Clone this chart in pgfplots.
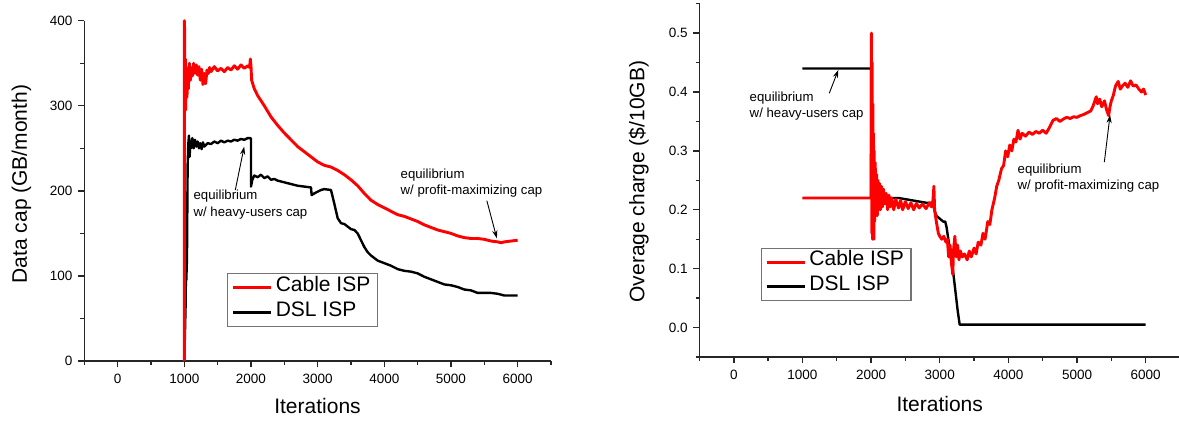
\documentclass[border=0pt]{standalone}
\usepackage{pgfplots}
\pgfplotsset{compat=1.18}
\usepackage{fontspec}
\setmainfont{Liberation Sans}
\usetikzlibrary{arrows.meta}

\newcommand{\annotfont}{\fontsize{6.6}{8}\selectfont}
\pgfplotsset{
  mystyle/.style={
    scale only axis,
    anchor=south west,
    axis x line*=bottom, axis y line*=left,
    axis line style={-, line width=0.7pt, black!85},
    tick align=outside,
    major tick length=3.2pt, minor tick length=2pt,
    every tick/.style={black!85, line width=0.7pt},
    xmin=-500, xmax=6500,
    xtick={0,1000,2000,3000,4000,5000,6000},
    xticklabels={0,1000,2000,3000,4000,5000,6000},
    minor xtick={-500,500,1500,2500,3500,4500,5500,6500},
    /pgf/number format/assume math mode=true,
    tick label style={font=\fontsize{6.75}{8}\selectfont, inner sep=0pt},
    xticklabel style={anchor=north, yshift=-3pt},
    yticklabel style={anchor=east, xshift=-2.5pt},
    label style={font=\fontsize{10.5}{12}\selectfont, inner sep=0pt},
    legend cell align=left,
    legend image code/.code={\draw[#1, line width=1.6pt] (0pt,0pt) -- (19pt,0pt);},
    legend style={draw=black!55, line width=0.6pt, font=\fontsize{10.5}{12}\selectfont,
      anchor=north west, inner xsep=2pt, inner ysep=0.8pt, row sep=0pt,
      nodes={inner xsep=1.5pt, inner ysep=0pt, text height=8pt, text depth=4.3pt}},
    clip=false,
  }
}

\begin{document}
\begin{tikzpicture}
\useasboundingbox (0,0) rectangle (589.5pt,210.5pt);

% ---------------- Left: data cap ----------------
\begin{axis}[mystyle,
  at={(42.15pt,30pt)}, width=233.35pt, height=170.15pt,
  ymin=0, ymax=400,
  ytick={0,100,200,300,400},
  yticklabels={0,100,200,300,400},
  minor ytick={50,150,250,350},
  xlabel={Iterations},
  ylabel={Data cap (GB/month)},
  xlabel style={at={(axis description cs:0.4997,-0.1537)}, anchor=base},
  ylabel style={at={(axis description cs:-0.1232,0.520)}, anchor=base, rotate=0},
  legend style={at={(0.3058,0.2577)}},
]
\addlegendimage{red}
\addlegendentry{Cable ISP}
\addlegendimage{black}
\addlegendentry{DSL ISP}

\addplot[black, line width=1.2pt, line join=round, forget plot] coordinates {
(1000,0)(1020,67)(1025,110)(1030,95)(1040,120)(1050,230)(1060,255)(1070,265)(1080,240)(1090,258)
(1100,250)(1120,262)(1140,250)(1160,260)(1180,252)(1200,258)(1220,250)(1240,256)(1260,249)(1280,257)
(1300,252)(1350,256)(1400,255)(1450,258)(1500,256)(1550,259)(1600,257)(1650,259)(1700,258)(1750,260)
(1800,259)(1850,261)(1900,260)(1950,262)(1990,262)(2000,261)(2000,205)(2020,213)(2050,218)(2100,216)
(2150,219)(2200,215)(2250,217)(2300,213)(2350,214)(2400,212)(2500,210)(2600,208)(2700,206)(2800,205)
(2900,204)(2910,195)(2950,197)(3000,199)(3050,201)(3100,202)(3200,201)(3250,185)(3300,168)(3350,162)
(3400,161)(3450,158)(3500,155)(3550,154)(3600,150)(3650,142)(3700,134)(3750,128)(3800,124)(3900,118)
(4000,115)(4100,112)(4200,108)(4300,106)(4400,105)(4500,103)(4600,99)(4700,96)(4800,93)(4900,90)
(5000,89)(5100,87)(5200,84)(5300,83)(5400,80)(5500,80)(5600,80)(5700,79)(5750,78)(5800,77)(6000,77)
};
\addplot[red, line width=1.45pt, line join=round, forget plot] coordinates {
(1000,0)(1000,400)(1005,390)(1010,300)(1015,355)(1020,295)(1030,345)(1040,310)(1050,340)(1060,320)
(1075,350)(1090,330)(1100,345)(1120,335)(1140,350)(1160,338)(1180,348)(1200,336)(1220,346)(1240,330)
(1260,343)(1280,325)(1300,338)(1320,326)(1340,342)(1360,338)(1380,345)(1400,340)(1450,346)(1500,341)
(1550,344)(1600,340)(1650,345)(1700,342)(1750,347)(1800,343)(1850,348)(1900,344)(1950,347)(1980,345)
(1990,355)(2000,347)(2010,330)(2050,320)(2100,312)(2200,300)(2300,287)(2400,277)(2500,268)(2600,260)
(2700,252)(2800,246)(2900,240)(3000,234)(3100,230)(3200,228)(3300,224)(3400,219)(3500,213)(3600,206)
(3700,197)(3800,189)(3900,184)(4000,180)(4100,176)(4200,172)(4300,170)(4400,167)(4500,164)(4600,160)
(4700,157)(4800,154)(4900,152)(5000,150)(5100,147)(5200,145)(5300,144)(5400,144)(5500,143)(5600,141)
(5700,140)(5750,139)(5800,140)(5900,141)(6000,142)
};

\node[anchor=base west, font=\annotfont, inner sep=0pt] at (axis cs:1134,189.3) {equilibrium};
\node[anchor=base west, font=\annotfont, inner sep=0pt] at (axis cs:1134,169.6) {w/ heavy-users cap};
\draw[-{Stealth[length=4pt,width=2.6pt]}, line width=0.45pt] (axis cs:1765,201) -- (axis cs:1898,251.9);
\node[anchor=base west, font=\annotfont, inner sep=0pt] at (axis cs:4240,214.8) {equilibrium};
\node[anchor=base west, font=\annotfont, inner sep=0pt] at (axis cs:4240,196.0) {w/ profit-maximizing cap};
\draw[-{Stealth[length=4pt,width=2.6pt]}, line width=0.45pt] (axis cs:5538,188.4) -- (axis cs:5688,144.2);
\end{axis}

% ---------------- Right: overage charge ----------------
\begin{axis}[mystyle,
  at={(349.75pt,32pt)}, width=240.25pt, height=176.65pt,
  ymin=-0.05, ymax=0.55,
  ytick={0,0.1,0.2,0.3,0.4,0.5},
  yticklabels={0.0,0.1,0.2,0.3,0.4,0.5},
  minor ytick={-0.05,0.05,0.15,0.25,0.35,0.45,0.55},
  xlabel={Iterations},
  ylabel={Overage charge (\$/10GB)},
  xlabel style={at={(axis description cs:0.4999,-0.1548)}, anchor=base},
  ylabel style={at={(axis description cs:-0.1149,0.4962)}, anchor=base, rotate=0},
  legend style={at={(0.1272,0.3094)}},
]
\addlegendimage{red}
\addlegendentry{Cable ISP}
\addlegendimage{black}
\addlegendentry{DSL ISP}

\addplot[black, line width=1.2pt, line join=round, forget plot] coordinates {
(1000,0.44)(2000,0.44)(2000,0.22)(2100,0.222)(2200,0.222)(2300,0.22)(2400,0.22)(2500,0.218)(2600,0.216)
(2700,0.214)(2800,0.212)(2900,0.212)(2920,0.20)(2950,0.19)(3000,0.185)(3050,0.18)(3080,0.18)(3100,0.17)
(3150,0.13)(3200,0.09)(3230,0.06)(3260,0.03)(3290,0.005)(6000,0.005)
};
\addplot[red, line width=1.45pt, line join=round, forget plot] coordinates {
(1000,0.22)(2000,0.22)(2005,0.50)(2010,0.16)(2015,0.45)(2020,0.15)(2025,0.38)(2030,0.17)(2035,0.33)
(2040,0.15)(2045,0.30)(2050,0.18)(2060,0.28)(2070,0.19)(2080,0.26)(2090,0.19)(2100,0.25)(2110,0.20)
(2120,0.245)(2135,0.20)(2150,0.24)(2165,0.205)(2180,0.235)(2200,0.21)(2220,0.228)(2240,0.20)(2260,0.225)
(2280,0.205)(2300,0.22)(2330,0.20)(2360,0.218)(2400,0.203)(2430,0.216)(2460,0.20)(2500,0.214)(2540,0.202)
(2580,0.212)(2620,0.20)(2660,0.211)(2700,0.203)(2750,0.21)(2800,0.202)(2850,0.212)(2880,0.205)(2900,0.215)
(2915,0.24)(2925,0.20)(2950,0.18)(2980,0.16)(3000,0.155)(3030,0.15)(3060,0.155)(3090,0.145)(3110,0.15)
(3130,0.12)(3150,0.14)(3170,0.11)(3190,0.09)(3200,0.13)(3220,0.155)(3240,0.12)(3260,0.14)(3280,0.115)
(3300,0.13)(3330,0.12)(3360,0.125)(3400,0.115)(3430,0.13)(3460,0.12)(3500,0.135)(3530,0.125)(3560,0.145)
(3600,0.14)(3630,0.16)(3660,0.15)(3700,0.18)(3730,0.175)(3760,0.20)(3800,0.22)(3830,0.24)(3860,0.25)
(3900,0.27)(3930,0.275)(3960,0.30)(3990,0.29)(4020,0.31)(4050,0.30)(4080,0.32)(4110,0.315)(4140,0.335)
(4170,0.32)(4200,0.33)(4250,0.325)(4300,0.332)(4350,0.328)(4400,0.333)(4450,0.33)(4500,0.335)(4550,0.33)
(4600,0.34)(4650,0.352)(4700,0.355)(4750,0.35)(4800,0.354)(4850,0.357)(4900,0.355)(4950,0.358)(5000,0.357)
(5050,0.36)(5100,0.362)(5150,0.365)(5200,0.368)(5230,0.375)(5260,0.385)(5280,0.392)(5300,0.38)(5330,0.388)
(5360,0.375)(5400,0.385)(5430,0.37)(5460,0.36)(5480,0.375)(5500,0.385)(5530,0.395)(5560,0.41)(5600,0.418)
(5630,0.405)(5660,0.41)(5700,0.415)(5740,0.408)(5780,0.419)(5820,0.41)(5860,0.412)(5900,0.405)(5940,0.40)
(5970,0.405)(6000,0.395)
};

\node[anchor=base west, font=\annotfont, inner sep=0pt] at (axis cs:226,0.3837) {equilibrium};
\node[anchor=base west, font=\annotfont, inner sep=0pt] at (axis cs:226,0.3565) {w/ heavy-users cap};
\draw[-{Stealth[length=4pt,width=2.6pt]}, line width=0.45pt] (axis cs:1391,0.398) -- (axis cs:1522,0.4375);
\node[anchor=base west, font=\annotfont, inner sep=0pt] at (axis cs:4130,0.2621) {equilibrium};
\node[anchor=base west, font=\annotfont, inner sep=0pt] at (axis cs:4130,0.2349) {w/ profit-maximizing cap};
\draw[-{Stealth[length=4pt,width=2.6pt]}, line width=0.45pt] (axis cs:5398,0.281) -- (axis cs:5481,0.361);
\end{axis}
\end{tikzpicture}
\end{document}
